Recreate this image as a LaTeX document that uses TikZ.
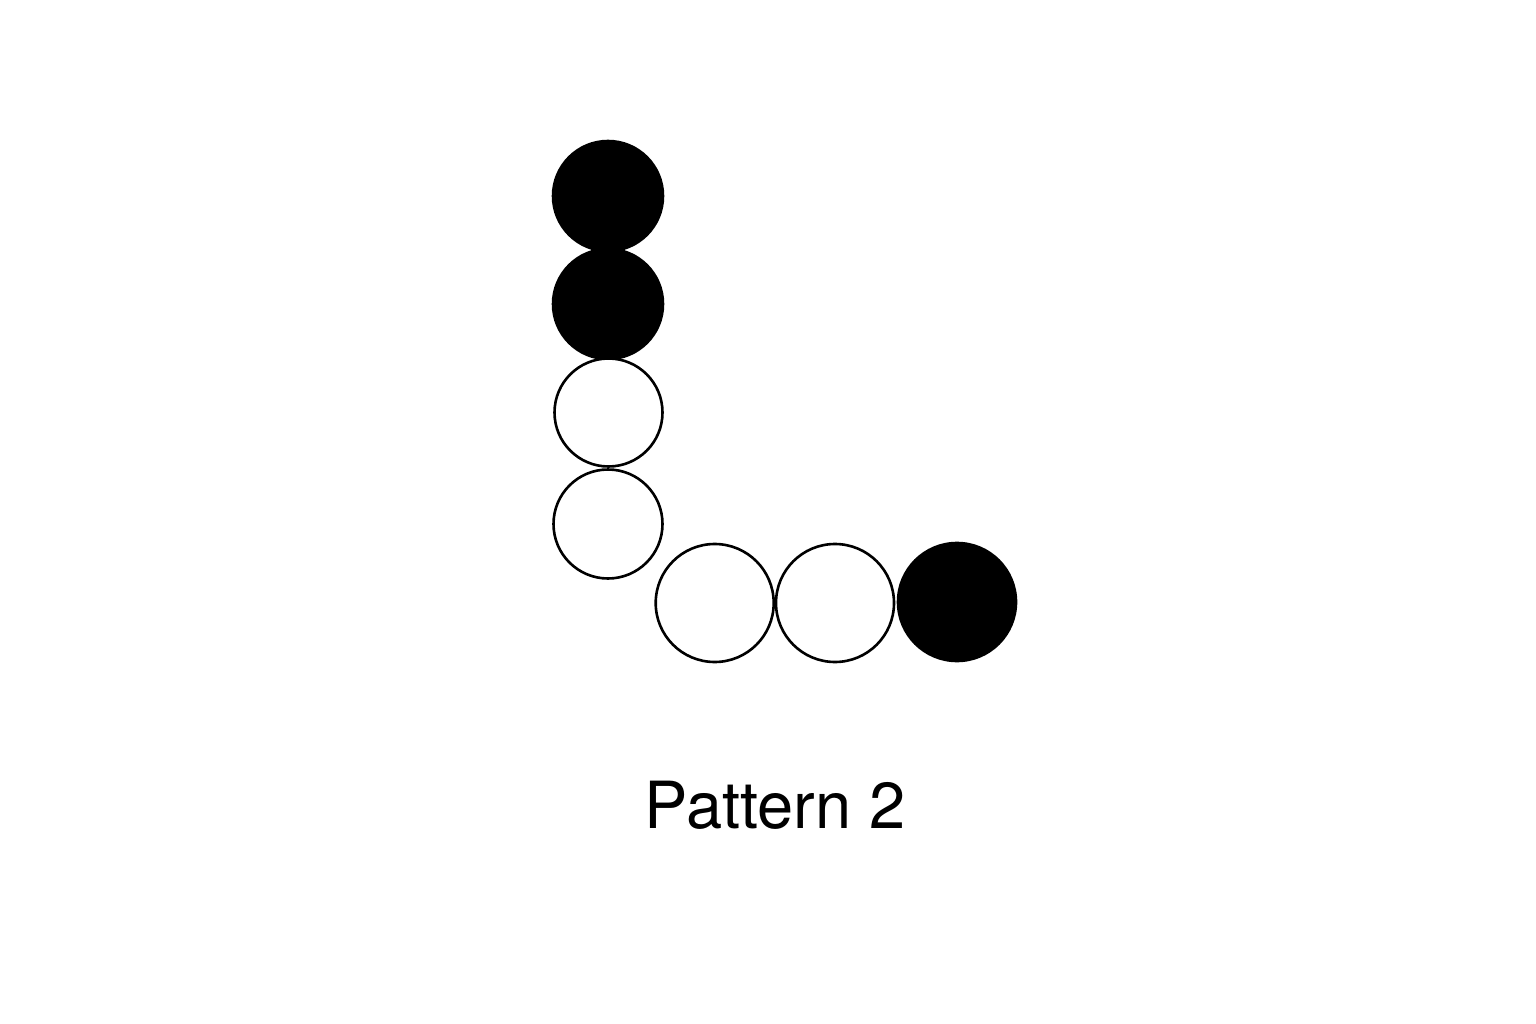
\documentclass[tikz,border=0pt]{standalone}
\usepackage{fontspec}
\setmainfont{TeX Gyre Heros}
\begin{document}
\begin{tikzpicture}[x=1pt,y=-1pt,
  full/.style={circle,fill=black,draw=black,line width=2.6pt,inner sep=0pt},
  empty/.style={circle,fill=white,draw=black,line width=2.6pt,inner sep=0pt}]
\useasboundingbox[fill=white] (0,0) rectangle (1536,1024);
\node[full,minimum size=110pt] (c1) at (608,196) {};
\node[full,minimum size=110pt] (c2) at (608,304) {};
\node[empty,minimum size=108pt] (c3) at (608.5,412.5) {};
\node[empty,minimum size=109pt] (c4) at (608,524) {};
\node[empty,minimum size=118pt] (c5) at (714.7,603) {};
\node[empty,minimum size=118pt] (c6) at (835,603) {};
\node[full,minimum size=118pt] (c7) at (957,602) {};
\node[anchor=base,inner sep=0pt,font=\fontsize{65pt}{72pt}\selectfont] (lbl) at (775,828) {Pattern 2};
\end{tikzpicture}
\end{document}
